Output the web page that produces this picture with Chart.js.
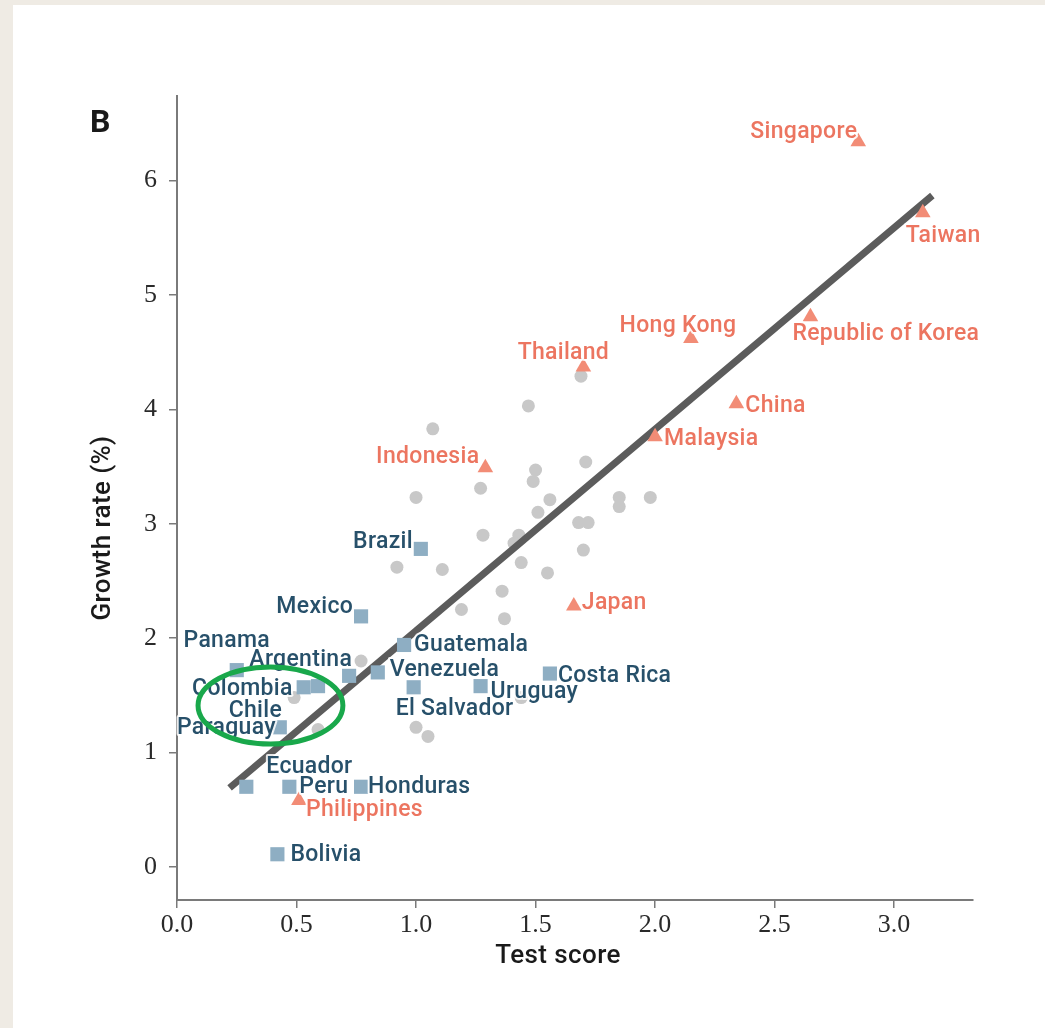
<!DOCTYPE html>
<html>
<head>
<meta charset="utf-8">
<script src="https://cdn.jsdelivr.net/npm/chart.js@4.4.1/dist/chart.umd.min.js"></script>
<style>
  html, body { margin: 0; padding: 0; background: #efebe4; }
  #panel { position: absolute; left: 13px; top: 5px; width: 1032px; height: 1023px; background: #fff; }
  #panelLetter { position: absolute; left: 77px; top: 97px; font: bold 32px Roboto, sans-serif; color: #1a1a1a; }
  canvas { position: absolute; left: 0; top: 0; }
</style>
</head>
<body>
<div id="panel">
  <canvas id="scoreChart" width="1032" height="1023"></canvas>
  <div id="panelLetter">B</div>
</div>
<script>
// East Asian countries (red triangles)
const asiaNames = ['Singapore', 'Taiwan', 'Republic of Korea', 'Hong Kong', 'Thailand', 'China', 'Malaysia', 'Indonesia', 'Japan', 'Philippines'];
const asiaX = [2.85, 3.12, 2.65, 2.15, 1.70, 2.34, 2.00, 1.29, 1.66, 0.51];
const asiaY = [6.34, 5.72, 4.81, 4.62, 4.37, 4.05, 3.76, 3.49, 2.28, 0.58];

// Latin American countries (blue squares)
const latamNames = ['Brazil', 'Mexico', 'Guatemala', 'Venezuela', 'Costa Rica', 'Uruguay', 'El Salvador', 'Argentina', 'Panama', 'Colombia', 'Chile', 'Paraguay', 'Ecuador', 'Peru', 'Honduras', 'Bolivia'];
const latamX = [1.02, 0.77, 0.95, 0.84, 1.56, 1.27, 0.99, 0.72, 0.25, 0.53, 0.59, 0.43, 0.29, 0.47, 0.77, 0.42];
const latamY = [2.78, 2.19, 1.94, 1.70, 1.69, 1.58, 1.57, 1.67, 1.72, 1.57, 1.58, 1.22, 0.70, 0.70, 0.70, 0.11];

// other countries (grey dots)
const otherX = [1.47, 1.07, 1.69, 1.71, 1.50, 1.49, 1.27, 1.00, 1.85, 1.85, 1.98, 1.56, 1.51, 1.68, 1.72, 1.28, 1.43, 1.41, 1.70, 1.44, 0.92, 1.11, 1.55, 1.36, 1.19, 1.37, 0.77, 0.49, 0.59, 1.00, 1.05, 1.44];
const otherY = [4.03, 3.83, 4.29, 3.54, 3.47, 3.37, 3.31, 3.23, 3.23, 3.15, 3.23, 3.21, 3.10, 3.01, 3.01, 2.90, 2.90, 2.83, 2.77, 2.66, 2.62, 2.60, 2.57, 2.41, 2.25, 2.17, 1.80, 1.48, 1.20, 1.22, 1.14, 1.48];

// regression line end points
const fitX = [0.22, 3.16];
const fitY = [0.69, 5.87];

const xTicks = [0, 0.5, 1, 1.5, 2, 2.5, 3];
const yTicks = [0, 1, 2, 3, 4, 5, 6];

const xTitle = 'Test score';
const yTitle = 'Growth rate (%)';

// highlighted group (ellipse center and radii, in data units)
const ringCenter = [0.391, 1.41];
const ringRadius = [0.303, 0.337];

const RED = '#ec7560';
const RED_MARK = '#f28c76';
const BLUE = '#27506a';
const BLUE_MARK = '#8eaec3';

// label placement: [dx, dy, align] in pixels from the marker
const labelOffsets = {
    'Singapore': [-1, -11, 'right'],
    'Taiwan': [-17, 22, 'left'],
    'Republic of Korea': [-18, 16, 'left'],
    'Hong Kong': [-13, -14, 'center'],
    'Thailand': [-20, -16, 'center'],
    'China': [9, 1, 'left'],
    'Malaysia': [9, 0, 'left'],
    'Indonesia': [-6, -12, 'right'],
    'Japan': [8, -5, 'left'],
    'Philippines': [7, 8, 'left'],
    'Brazil': [-8, -9, 'right'],
    'Mexico': [-8, -11, 'right'],
    'Guatemala': [10, -2, 'left'],
    'Venezuela': [12, -4, 'left'],
    'Costa Rica': [8, 1, 'left'],
    'Uruguay': [10, 4, 'left'],
    'El Salvador': [-18, 20, 'left'],
    'Argentina': [3, -18, 'right'],
    'Panama': [-10, -31, 'center'],
    'Colombia': [-11, 0, 'right'],
    'Chile': [-36, 23, 'right'],
    'Paraguay': [-4, -1, 'right'],
    'Ecuador': [20, -22, 'left'],
    'Peru': [10, -2, 'left'],
    'Honduras': [7, -2, 'left'],
    'Bolivia': [13, -1, 'left']
};

function toPoints(xs, ys) {
    return xs.map((x, i) => ({ x: x, y: ys[i] }));
}

// Draws the country names, axis titles and the green ring
const countryLabels = {
    id: 'countryLabels',
    afterDatasetsDraw(chart) {
        const ctx = chart.ctx;
        const area = chart.chartArea;
        const sx = chart.scales.x, sy = chart.scales.y;
        const groups = [
            { names: asiaNames, xs: asiaX, ys: asiaY, color: RED },
            { names: latamNames, xs: latamX, ys: latamY, color: BLUE }
        ];
        ctx.save();
        ctx.font = '500 23px Roboto, sans-serif';
        ctx.letterSpacing = '0.3px';
        ctx.textBaseline = 'middle';
        ctx.lineJoin = 'round';
        groups.forEach(g => {
            g.names.forEach((name, i) => {
                const off = labelOffsets[name];
                const px = sx.getPixelForValue(g.xs[i]) + off[0];
                const py = sy.getPixelForValue(g.ys[i]) + off[1] + 2;
                ctx.textAlign = off[2];
                ctx.strokeStyle = 'rgba(255,255,255,0.85)';
                ctx.lineWidth = 4;
                ctx.strokeText(name, px, py);
                ctx.fillStyle = g.color;
                ctx.fillText(name, px, py);
            });
        });

        // axis titles
        ctx.fillStyle = '#1a1a1a';
        ctx.font = '500 26px Roboto, sans-serif';
        ctx.letterSpacing = '0.4px';
        ctx.textAlign = 'center';
        ctx.fillText(xTitle, (area.left + area.right) / 2 - 17, area.bottom + 56);
        ctx.save();
        ctx.translate(area.left - 74, (area.top + area.bottom) / 2 + 30);
        ctx.rotate(-Math.PI / 2);
        ctx.fillText(yTitle, 0, 0);
        ctx.restore();

        // green ring
        const cx = sx.getPixelForValue(ringCenter[0]);
        const cy = sy.getPixelForValue(ringCenter[1]);
        const rx = Math.abs(sx.getPixelForValue(ringCenter[0] + ringRadius[0]) - cx);
        const ry = Math.abs(sy.getPixelForValue(ringCenter[1] + ringRadius[1]) - cy);
        ctx.beginPath();
        ctx.ellipse(cx, cy, rx, ry, 0, 0, Math.PI * 2);
        ctx.strokeStyle = '#19a84b';
        ctx.lineWidth = 5;
        ctx.stroke();
        ctx.restore();
    }
};

const axisColor = '#7a7a7a';

new Chart(document.getElementById('scoreChart'), {
    type: 'scatter',
    data: {
        datasets: [
            {
                label: 'East Asia',
                data: toPoints(asiaX, asiaY),
                pointStyle: 'triangle',
                pointRadius: 9,
                backgroundColor: RED_MARK,
                borderWidth: 0
            },
            {
                label: 'Latin America',
                data: toPoints(latamX, latamY),
                pointStyle: 'rect',
                pointRadius: 10,
                backgroundColor: BLUE_MARK,
                borderWidth: 0
            },
            {
                label: 'Fit',
                type: 'line',
                data: toPoints(fitX, fitY),
                borderColor: '#5c5c5c',
                borderWidth: 7,
                borderCapStyle: 'butt',
                pointRadius: 0,
                fill: false
            },
            {
                label: 'Other',
                data: toPoints(otherX, otherY),
                pointStyle: 'circle',
                pointRadius: 6.5,
                backgroundColor: '#c8c8c8',
                borderWidth: 0
            }
        ]
    },
    options: {
        responsive: false,
        animation: false,
        devicePixelRatio: 1,
        layout: { padding: { left: 74, top: 91, right: 72, bottom: 48 } },
        plugins: {
            legend: { display: false },
            tooltip: { enabled: false }
        },
        scales: {
            x: {
                type: 'linear',
                min: 0,
                max: 3.33,
                afterFit(scale) { scale.height = 80; },
                afterBuildTicks(scale) { scale.ticks = xTicks.map(v => ({ value: v })); },
                border: { color: axisColor, width: 2 },
                grid: { drawOnChartArea: false, drawTicks: true, tickLength: 8, color: axisColor, lineWidth: 1.5 },
                ticks: {
                    padding: 2,
                    color: '#2a2a2a',
                    font: { family: '"Liberation Serif", serif', size: 26 },
                    callback: v => v.toFixed(1)
                }
            },
            y: {
                type: 'linear',
                min: -0.29,
                max: 6.74,
                afterFit(scale) { scale.width = 90; },
                afterBuildTicks(scale) { scale.ticks = yTicks.map(v => ({ value: v })); },
                border: { color: axisColor, width: 2 },
                grid: { drawOnChartArea: false, drawTicks: true, tickLength: 8, color: axisColor, lineWidth: 1.5 },
                ticks: {
                    padding: 12,
                    color: '#2a2a2a',
                    font: { family: '"Liberation Serif", serif', size: 26 },
                    callback: v => String(v)
                }
            }
        }
    },
    plugins: [countryLabels]
});
</script>
</body>
</html>
